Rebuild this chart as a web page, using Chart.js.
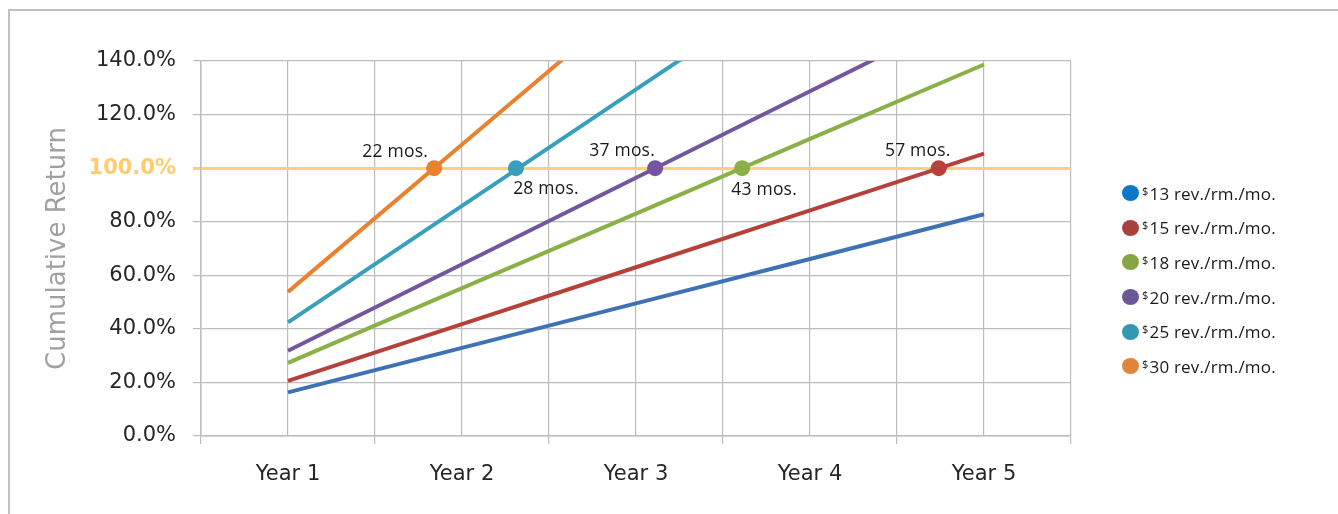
<!DOCTYPE html>
<html>
<head>
<meta charset="utf-8">
<script src="https://cdn.jsdelivr.net/npm/chart.js@4"></script>
<style>
  body { margin: 0; background: #fff; }
  #wrap { position: relative; width: 1338px; height: 514px; overflow: hidden; }
  #frame { position: absolute; left: 8px; top: 9px; width: 1340px; height: 520px;
           border-left: 2px solid #C0C0C0; border-top: 2px solid #C0C0C0; }
  canvas { position: absolute; left: 0; top: 0; }
  #legend { position: absolute; left: 1122px; top: 176px; font-family: "Open Sans", sans-serif;
            font-size: 17px; letter-spacing: 0.2px; color: #1a1a1a; }
  .row { height: 34.6px; display: flex; align-items: center; }
  .dot { width: 17px; height: 16px; border-radius: 50%; margin-right: 3px; }
  .row sup { font-size: 11px; position: relative; top: -3px; margin-right: 1px; }
</style>
</head>
<body>
<div id="wrap">
  <div id="frame"></div>
  <canvas id="chart" width="1338" height="514"></canvas>
  <div id="legend"></div>
</div>
<script>
// datos
const years = [1, 2, 3, 4, 5];
const yearLabels = ['Year 1', 'Year 2', 'Year 3', 'Year 4', 'Year 5'];
const prices = ['13', '15', '18', '20', '25', '30'];
const rev13 = [16.3, 32.9, 49.5, 66.1, 82.8];
const rev15 = [20.6, 41.8, 63.0, 84.2, 105.4];
const rev18 = [27.3, 55.2, 83.0, 110.9, 138.7];
const rev20 = [31.8, 64.1, 96.4, 128.7, 161.0];
const rev25 = [42.4, 85.9, 129.4, 172.9, 216.4];
const rev30 = [53.8, 108.8, 163.8, 218.8, 273.8];
// punto donde cada serie cruza el 100% (en años) y su etiqueta en meses
const crossYears = [null, 4.74, 3.61, 3.11, 2.31, 1.84];
const crossMonths = [null, 57, 43, 37, 28, 22];
const yTicks = [0, 20, 40, 60, 80, 100, 120, 140];

const series = [rev13, rev15, rev18, rev20, rev25, rev30];
const lineColors = ['#3E72B4', '#B6403A', '#8BB048', '#7456A0', '#38A0BC', '#E8822E'];
const legendColors = ['#0B78C8', '#A8413B', '#86A544', '#6B5697', '#3598B3', '#E0853A'];

const axisFont = '"DejaVu Sans", sans-serif';
const gridGray = '#BDBDBD';

// leyenda en HTML (para el $ en superíndice)
const legendBox = document.getElementById('legend');
prices.forEach((p, i) => {
  const row = document.createElement('div');
  row.className = 'row';
  row.innerHTML = `<span class="dot" style="background:${legendColors[i]}"></span><sup>$</sup>${p} rev./rm./mo.`;
  legendBox.appendChild(row);
});

const datasets = series.map((vals, i) => ({
  type: 'line',
  label: '$' + prices[i] + ' rev./rm./mo.',
  data: vals.map((v, k) => ({ x: years[k], y: v })),
  borderColor: lineColors[i],
  borderWidth: 4,
  pointRadius: 0,
  tension: 0,
  order: 1
}));

const markerIdx = crossYears.map((c, i) => i).filter(i => crossYears[i] !== null);
datasets.push({
  type: 'scatter',
  label: 'cruce',
  data: markerIdx.map(i => ({ x: crossYears[i], y: 100 })),
  pointRadius: 8,
  pointBackgroundColor: markerIdx.map(i => lineColors[i]),
  pointBorderWidth: 0,
  order: 0
});

// posición de cada etiqueta respecto al marcador
const labelPlace = { 57: [-21, -12], 43: [22, 27], 37: [-33, -12], 28: [30, 26], 22: [-39, -11] };

const monthLabels = {
  id: 'monthLabels',
  afterDatasetsDraw(chart) {
    const meta = chart.getDatasetMeta(datasets.length - 1);
    const ctx = chart.ctx;
    ctx.save();
    ctx.font = '17.5px "Open Sans", sans-serif';
    ctx.letterSpacing = '0.2px';
    ctx.fillStyle = '#1a1a1a';
    ctx.textAlign = 'center';
    ctx.textBaseline = 'alphabetic';
    meta.data.forEach((pt, k) => {
      const m = crossMonths[markerIdx[k]];
      const off = labelPlace[m];
      ctx.fillText(m + ' mos.', pt.x + off[0], pt.y + off[1]);
    });
    ctx.restore();
  }
};

new Chart(document.getElementById('chart'), {
  data: { datasets },
  options: {
    responsive: false,
    animation: false,
    devicePixelRatio: 1,
    layout: { padding: { left: 0, right: 267, top: 61, bottom: 0 } },
    plugins: { legend: { display: false }, tooltip: { enabled: false } },
    scales: {
      x: {
        type: 'linear',
        min: 0.5,
        max: 5.5,
        afterFit: s => { s.height = 78; },
        border: { color: gridGray, width: 1.5 },
        grid: {
          color: gridGray,
          lineWidth: 1.2,
          tickLength: 8,
          tickColor: c => Number.isInteger(c.tick.value) ? 'rgba(0,0,0,0)' : gridGray
        },
        ticks: {
          stepSize: 0.5,
          autoSkip: false,
          maxRotation: 0,
          padding: 18,
          color: '#262626',
          font: { family: axisFont, size: 21 },
          callback: v => Number.isInteger(v) ? yearLabels[v - 1] : ''
        }
      },
      y: {
        min: 0,
        max: 140,
        afterFit: s => { s.width = 201; },
        afterBuildTicks: s => { s.ticks = yTicks.map(v => ({ value: v })); },
        border: { color: gridGray, width: 1.5 },
        grid: {
          color: c => c.tick.value === 100 ? '#FFD07C' : gridGray,
          lineWidth: c => c.tick.value === 100 ? 3 : 1.2,
          tickLength: 8
        },
        ticks: {
          padding: 17,
          color: c => c.tick.value === 100 ? '#FFCB6B' : '#262626',
          font: c => ({ family: axisFont, size: 21, weight: c.tick && c.tick.value === 100 ? 'bold' : 'normal' }),
          callback: v => v.toFixed(1) + '%'
        },
        title: {
          display: true,
          text: 'Cumulative Return',
          color: '#A0A0A0',
          font: { family: axisFont, size: 26 },
          padding: { top: 43, bottom: 0 }
        }
      }
    }
  },
  plugins: [monthLabels]
});
</script>
</body>
</html>
